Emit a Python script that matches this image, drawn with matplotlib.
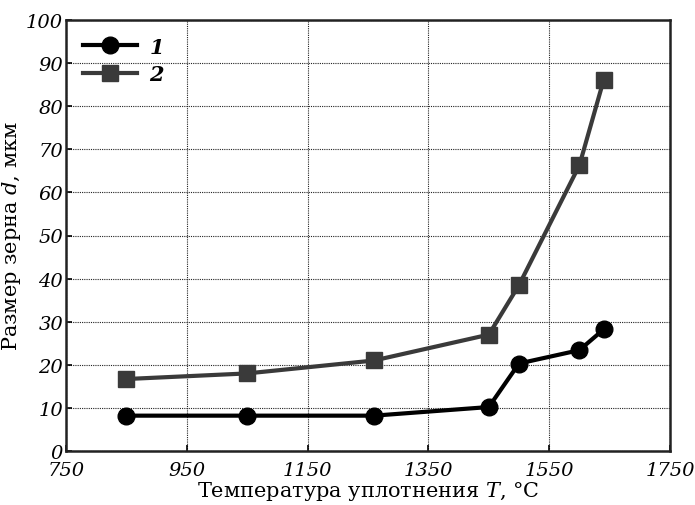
import numpy as np
import matplotlib
matplotlib.use('Agg')
import matplotlib.pyplot as plt

# данные
temp1 = [850, 1050, 1260, 1450, 1500, 1600, 1640]
size1 = [8.2, 8.2, 8.2, 10.2, 20.3, 23.4, 28.2]
temp2 = [850, 1050, 1260, 1450, 1500, 1600, 1640]
size2 = [16.7, 18.0, 21.0, 27.0, 38.5, 66.3, 86.0]
xticks = [750, 950, 1150, 1350, 1550, 1750]
yticks = list(range(0, 101, 10))

plt.rcParams['font.family'] = ['DejaVu Serif']
plt.rcParams['mathtext.fontset'] = 'dejavuserif'

fig = plt.figure(figsize=(6.95, 5.06), dpi=100)
ax = fig.add_axes([66/695, 1-452/506, (670-66)/695, (452-21)/506])

ax.plot(temp1, size1, color='black', lw=3, marker='o', ms=12, label='1')
ax.plot(temp2, size2, color='#3a3a3a', lw=3, marker='s', ms=12, label='2')

ax.set_xlim(750, 1750)
ax.set_ylim(0, 100)
ax.set_xticks(xticks)
ax.set_yticks(yticks)
ax.set_xticklabels([str(t) for t in xticks], fontstyle='italic', fontsize=14)
ax.set_yticklabels([str(t) for t in yticks], fontstyle='italic', fontsize=14)
ax.tick_params(direction='in', length=4, width=1.2)
ax.tick_params(axis='x', pad=7)
ax.tick_params(axis='y', pad=2)
ax.grid(True, color='#222222', ls=(0, (1, 1)), lw=0.8)
for s in ax.spines.values():
    s.set_linewidth(1.8)
    s.set_color('#222222')

ax.set_xlabel('Температура уплотнения $T$, °C', fontsize=15, labelpad=0)
ax.set_ylabel('Размер зерна $d$, мкм', fontsize=15, labelpad=2)

leg = ax.legend(loc='upper left', frameon=False, fontsize=15, handlelength=2.6,
                borderaxespad=0.4, labelspacing=0.35, handletextpad=0.6)
for t in leg.get_texts():
    t.set_fontstyle('italic')
    t.set_fontweight('bold')

fig.savefig('out.png', dpi=100)
